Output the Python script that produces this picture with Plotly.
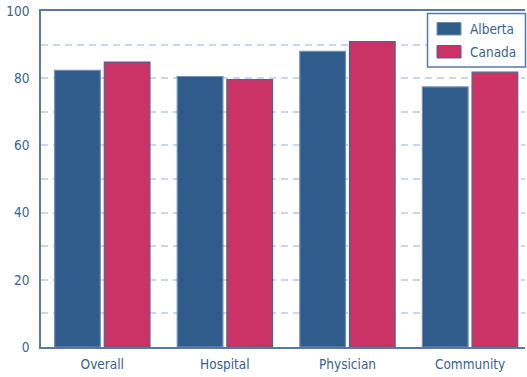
import plotly.graph_objects as go

categories = ["Overall", "Hospital", "Physician", "Community"]
alberta = [82.3, 80.5, 88.0, 77.4]
canada = [84.8, 79.6, 90.9, 81.8]
y_ticks = [0, 20, 40, 60, 80, 100]
series_names = ["Alberta", "Canada"]
series_colors = ["#305c8c", "#cb3366"]
series_edges = ["#6f8db5", "#4f638e"]

W, H = 527, 377
ML, MR, MT, MB = 41, 2, 11, 30
text_color = "#3a5f92"
axis_color = "#5a78a3"
grid_color = "#cdd6e4"
font_family = "DejaVu Sans Condensed, Liberation Sans Narrow, Roboto, Arial"

fig = go.Figure()
for name, vals, col, edge in zip(series_names, [alberta, canada],
                                 series_colors, series_edges):
    fig.add_trace(go.Bar(
        name=name, x=categories, y=vals, showlegend=False,
        marker=dict(color=col, line=dict(color=edge, width=1.2)),
    ))


def px_x(x):
    return (x - ML) / (W - ML - MR)


def px_y(y):
    return 1 - (y - MT) / (H - MT - MB)


# boxed legend in the upper right corner
shapes = [dict(type="rect", xref="paper", yref="paper",
               x0=px_x(427.5), x1=px_x(525.5), y0=px_y(13.5), y1=px_y(67),
               line=dict(color=axis_color, width=1.5), fillcolor="white",
               layer="above")]
annotations = []
for i, (name, col, edge) in enumerate(zip(series_names, series_colors, series_edges)):
    top = 22.5 + i * 23
    shapes.append(dict(type="rect", xref="paper", yref="paper",
                       x0=px_x(437), x1=px_x(461), y0=px_y(top), y1=px_y(top + 12.5),
                       line=dict(color=edge, width=1), fillcolor=col, layer="above"))
    annotations.append(dict(text=name, xref="paper", yref="paper",
                            x=px_x(468), y=px_y(top + 6.5), xanchor="left",
                            yanchor="middle", showarrow=False,
                            font=dict(size=13.5, color=text_color)))

fig.update_layout(
    template="none",
    width=W, height=H,
    margin=dict(l=ML, r=MR, t=MT, b=MB),
    paper_bgcolor="white", plot_bgcolor="white",
    barmode="group", bargap=0.19, bargroupgap=0.08,
    font=dict(family=font_family, size=13, color=text_color),
    showlegend=False,
    shapes=shapes, annotations=annotations,
    xaxis=dict(
        range=[-0.5, 3.448], showline=True, linecolor=axis_color, linewidth=1.5,
        mirror=True, ticks="", showgrid=False, tickfont=dict(size=13.5),
        ticklabelstandoff=4,
    ),
    yaxis=dict(
        range=[0, 100], tickvals=y_ticks, showline=True, linecolor=axis_color,
        linewidth=1.5, mirror=False, ticks="", tickfont=dict(size=13.5),
        ticklabelstandoff=7,
        showgrid=True, gridcolor=grid_color, griddash="7px,5px", gridwidth=1.5,
        minor=dict(dtick=10, showgrid=True, gridcolor=grid_color,
                   griddash="7px,5px", gridwidth=1.5, ticks=""),
        zeroline=False,
    ),
)

fig.write_html("out.html", config={"displayModeBar": False})
